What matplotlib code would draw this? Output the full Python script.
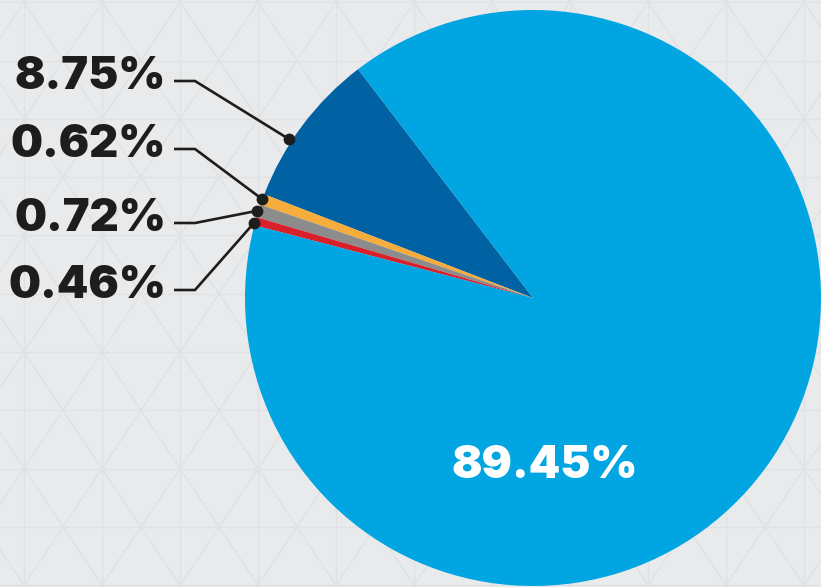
import numpy as np
import matplotlib
matplotlib.use("Agg")
import matplotlib.pyplot as plt

# ---- data ----
labels = ["8.75%", "0.62%", "0.72%", "0.46%", "89.45%"]
values = [8.75, 0.62, 0.72, 0.46, 89.45]
colors = ["#0062a3", "#f7ad3b", "#8c8c8c", "#d8202b", "#00a5e1"]

W, H = 821, 587
BG = "#e9eaec"
LINE = "#dfe1e3"

fig = plt.figure(figsize=(W / 100, H / 100), dpi=100, facecolor=BG)
ax = fig.add_axes([0, 0, 1, 1])
ax.set_xlim(0, W)
ax.set_ylim(0, H)
ax.set_facecolor(BG)
ax.axis("off")


def Y(y):
    return H - y


# ---- background triangular pattern (decoration) ----
dy = 58.3
dx = 78.0
for k in range(-8, 8):
    yy = 352 + dy * k
    ax.plot([0, W], [Y(yy), Y(yy)], color=LINE, lw=1.0, zorder=0)
for k in range(-2, 12):
    xx = 24 + dx * k
    ax.plot([xx, xx], [0, H], color=LINE, lw=1.0, zorder=0)
slope = dy / (dx / 2)
for k in range(-20, 30):
    x0 = 24 + dx * k
    for s in (1, -1):
        ys = np.array([-50, H + 50])
        xs = x0 + s * (ys - 352) / slope
        ax.plot(xs, [Y(v) for v in ys], color=LINE, lw=1.0, zorder=0)

# ---- pie ----
cx, cy, R = 533, 298, 288
wedges, _ = ax.pie(values, colors=colors, startangle=127.4, counterclock=True,
                   center=(cx, Y(cy)), radius=R, frame=True,
                   wedgeprops=dict(linewidth=0))
ax.set_xlim(0, W)
ax.set_ylim(0, H)
ax.axis("off")

font = dict(family=["Inter", "DejaVu Sans"], weight="black", size=32.5)

# leader-line labels for the first four slices
label_y = [81, 149, 223, 290]
frac = [0.62, 0.45, 0.5, 0.75]
rdot = [291, 289, 289, 289]
for w, lab, ly, f, rd in zip(wedges[:4], labels[:4], label_y, frac, rdot):
    ang = np.deg2rad(w.theta1 + f * (w.theta2 - w.theta1))
    px = cx + rd * np.cos(ang)
    py = cy - rd * np.sin(ang)
    ax.plot([174, 195, px], [Y(ly), Y(ly), Y(py)], color="#1d1d1b", lw=1.9,
            solid_capstyle="butt", zorder=5)
    ax.plot([px], [Y(py)], "o", ms=7.5, color="#1d1d1b", zorder=6)
    ax.text(166, Y(ly - 4), lab, ha="right", va="center", color="#1d1d1b", **font)

# big slice label
ax.text(545, Y(466), labels[4], ha="center", va="center", color="white", **font)

fig.savefig("out.png", dpi=100, facecolor=BG)
